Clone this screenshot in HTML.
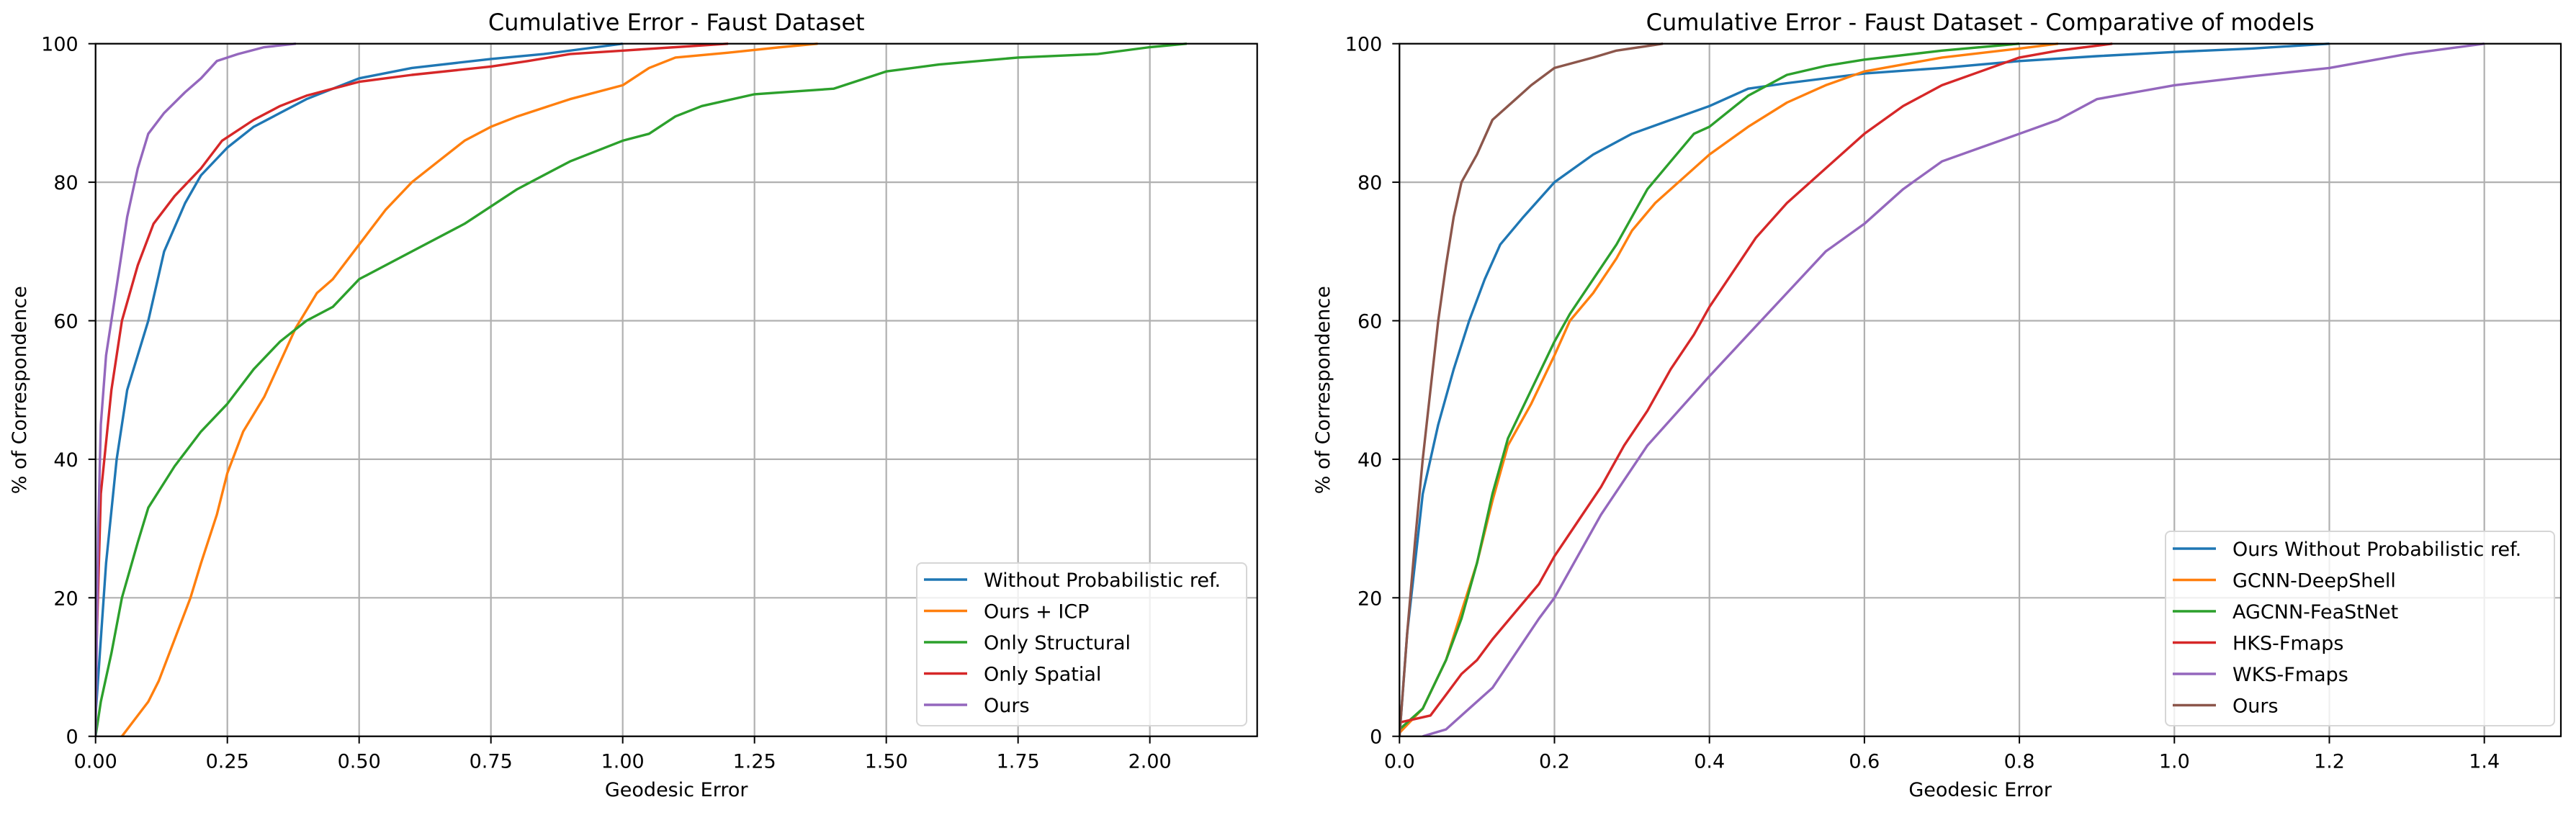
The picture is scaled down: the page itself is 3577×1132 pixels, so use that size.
<!DOCTYPE html>
<html><head><meta charset="utf-8"><style>
html,body{margin:0;padding:0;background:#fff;}
svg text{font-family:"DejaVu Sans","Liberation Sans",sans-serif;fill:#000;}
</style></head><body>
<svg id="fig" width="3577" height="1127" viewBox="0 0 3577 1127" xmlns="http://www.w3.org/2000/svg"></svg>
<script>
const leftNames = ["Without Probabilistic ref.","Ours + ICP","Only Structural","Only Spatial","Ours"];
const leftColors = ["#1f77b4","#ff7f0e","#2ca02c","#d62728","#9467bd"];
const leftBlue = [[0,3],[0.02,25],[0.04,40],[0.06,50],[0.1,60],[0.13,70],[0.17,77],[0.2,81],[0.25,85],[0.3,88],[0.35,90],[0.4,92],[0.45,93.5],[0.5,95],[0.6,96.5],[0.75,97.8],[0.85,98.5],[0.95,99.5],[1.0,100]];
const leftOrange = [[0.05,0],[0.07,2],[0.1,5],[0.12,8],[0.15,14],[0.18,20],[0.2,25],[0.23,32],[0.25,38],[0.28,44],[0.32,49],[0.35,54],[0.38,59],[0.42,64],[0.45,66],[0.5,71],[0.55,76],[0.6,80],[0.65,83],[0.7,86],[0.75,88],[0.8,89.5],[0.9,92],[1.0,94],[1.05,96.5],[1.1,98],[1.2,98.7],[1.3,99.5],[1.37,100]];
const leftGreen = [[0,0],[0.01,5],[0.03,12],[0.05,20],[0.08,28],[0.1,33],[0.15,39],[0.2,44],[0.25,48],[0.3,53],[0.35,57],[0.4,60],[0.45,62],[0.5,66],[0.6,70],[0.7,74],[0.8,79],[0.9,83],[1.0,86],[1.05,87],[1.1,89.5],[1.15,91],[1.25,92.7],[1.4,93.5],[1.5,96],[1.6,97],[1.75,98],[1.9,98.5],[2.0,99.5],[2.07,100]];
const leftRed = [[0,8],[0.01,35],[0.03,50],[0.05,60],[0.08,68],[0.11,74],[0.15,78],[0.2,82],[0.24,86],[0.3,89],[0.35,91],[0.4,92.5],[0.45,93.5],[0.5,94.5],[0.6,95.5],[0.75,96.7],[0.82,97.5],[0.9,98.5],[1.0,99],[1.1,99.5],[1.2,100]];
const leftPurple = [[0,0],[0.005,30],[0.01,45],[0.02,55],[0.04,65],[0.06,75],[0.08,82],[0.1,87],[0.13,90],[0.17,93],[0.2,95],[0.23,97.5],[0.27,98.5],[0.32,99.5],[0.38,100]];
const leftXTicks = ["0.00","0.25","0.50","0.75","1.00","1.25","1.50","1.75","2.00"];

const rightNames = ["Ours Without Probabilistic ref.","GCNN-DeepShell","AGCNN-FeaStNet","HKS-Fmaps","WKS-Fmaps","Ours"];
const rightColors = ["#1f77b4","#ff7f0e","#2ca02c","#d62728","#9467bd","#8c564b"];
const rightBlue = [[0,0],[0.01,15],[0.03,35],[0.05,45],[0.07,53],[0.09,60],[0.11,66],[0.13,71],[0.16,75],[0.2,80],[0.25,84],[0.3,87],[0.35,89],[0.4,91],[0.45,93.5],[0.5,94.3],[0.6,95.7],[0.7,96.5],[0.8,97.5],[0.9,98.2],[1.0,98.8],[1.1,99.3],[1.2,100]];
const rightOrange = [[0,0.5],[0.03,4],[0.06,11],[0.08,18],[0.1,25],[0.12,34],[0.14,42],[0.17,48],[0.2,55],[0.22,60],[0.25,64],[0.28,69],[0.3,73],[0.33,77],[0.36,80],[0.4,84],[0.45,88],[0.5,91.5],[0.55,94],[0.6,96],[0.7,98],[0.8,99.3],[0.85,100]];
const rightGreen = [[0,1],[0.03,4],[0.06,11],[0.08,17],[0.1,25],[0.12,35],[0.14,43],[0.17,50],[0.2,57],[0.22,61],[0.25,66],[0.28,71],[0.3,75],[0.32,79],[0.35,83],[0.38,87],[0.4,88],[0.45,92.5],[0.5,95.5],[0.55,96.8],[0.6,97.7],[0.7,99],[0.8,100]];
const rightRed = [[0,2],[0.02,2.5],[0.04,3],[0.06,6],[0.08,9],[0.1,11],[0.12,14],[0.15,18],[0.18,22],[0.2,26],[0.23,31],[0.26,36],[0.29,42],[0.32,47],[0.35,53],[0.38,58],[0.4,62],[0.43,67],[0.46,72],[0.5,77],[0.55,82],[0.6,87],[0.65,91],[0.7,94],[0.75,96],[0.8,98],[0.85,99],[0.92,100]];
const rightPurple = [[0.03,0],[0.06,1],[0.09,4],[0.12,7],[0.15,12],[0.18,17],[0.2,20],[0.23,26],[0.26,32],[0.29,37],[0.32,42],[0.36,47],[0.4,52],[0.45,58],[0.5,64],[0.55,70],[0.6,74],[0.65,79],[0.7,83],[0.75,85],[0.8,87],[0.85,89],[0.9,92],[0.95,93],[1.0,94],[1.1,95.3],[1.2,96.5],[1.3,98.5],[1.4,100]];
const rightBrown = [[0,0],[0.01,15],[0.02,28],[0.03,40],[0.04,50],[0.05,60],[0.06,68],[0.07,75],[0.08,80],[0.1,84],[0.12,89],[0.15,92],[0.17,94],[0.2,96.5],[0.25,98],[0.28,99],[0.34,100]];
const rightXTicks = ["0.0","0.2","0.4","0.6","0.8","1.0","1.2","1.4"];
const yTicks = ["0","20","40","60","80","100"];

const NS="http://www.w3.org/2000/svg";
const svg=document.getElementById('fig');
function mk(tag,attrs,parent){const e=document.createElementNS(NS,tag);for(const k in attrs)e.setAttribute(k,attrs[k]);(parent||svg).appendChild(e);return e;}

function drawPanel(cfg){
  const g=mk('g',{});
  
  
  const X=v=>cfg.x0+(v-0)/(cfg.xmax)*(cfg.x1-cfg.x0);
  const Y=v=>cfg.y1-(v/100)*(cfg.y1-cfg.y0);
  // grid
  cfg.xticks.forEach(t=>{const v=parseFloat(t);const gl=mk('line',{x1:X(v),x2:X(v),y1:cfg.y0,y2:cfg.y1,stroke:'#b0b0b0','stroke-width':2.2},g);
    
    });
  yTicks.forEach(t=>{const v=parseFloat(t);const gl=mk('line',{x1:cfg.x0,x2:cfg.x1,y1:Y(v),y2:Y(v),stroke:'#b0b0b0','stroke-width':2.2},g);
    
    });
  // clip
  const cid='clip-'+cfg.name;
  const cp=mk('clipPath',{id:cid},g);mk('rect',{x:cfg.x0,y:cfg.y0-3,width:cfg.x1-cfg.x0,height:cfg.y1-cfg.y0+3},cp);
  cfg.series.forEach((s,i)=>{
    const d=s.map((p,j)=>(j?'L':'M')+X(p[0]).toFixed(1)+','+Y(p[1]).toFixed(1)).join('');
    const pl=mk('path',{d:d,fill:'none',stroke:cfg.colors[i],'stroke-width':3.4,'stroke-linejoin':'round','clip-path':'url(#'+cid+')'},g);
    
    
  });
  // spines
  const fr=mk('rect',{x:cfg.x0,y:cfg.y0,width:cfg.x1-cfg.x0,height:cfg.y1-cfg.y0,fill:'none',stroke:'#000','stroke-width':2.2},g);
  
  
  // ticks
  cfg.xticks.forEach(t=>{const v=parseFloat(t);mk('line',{x1:X(v),x2:X(v),y1:cfg.y1,y2:cfg.y1+10,stroke:'#000','stroke-width':2},g);
    const tx=mk('text',{x:X(v),y:cfg.y1+44,'font-size':27,'text-anchor':'middle'},g);tx.textContent=t;
    
    });
  yTicks.forEach(t=>{const v=parseFloat(t);mk('line',{x1:cfg.x0-10,x2:cfg.x0,y1:Y(v),y2:Y(v),stroke:'#000','stroke-width':2},g);
    const tx=mk('text',{x:cfg.x0-24,y:Y(v)+10,'font-size':27,'text-anchor':'end'},g);tx.textContent=t;
    
    });
  const ti=mk('text',{x:(cfg.x0+cfg.x1)/2,y:42,'font-size':32,'text-anchor':'middle'},g);ti.textContent=cfg.title;
  
  
  const xl=mk('text',{x:(cfg.x0+cfg.x1)/2,y:1106,'font-size':27,'text-anchor':'middle'},g);xl.textContent='Geodesic Error';
  
  
  const yc=(cfg.y0+cfg.y1)/2;
  const yl=mk('text',{x:cfg.ylx,y:yc,'font-size':27,'text-anchor':'middle',transform:'rotate(-90 '+cfg.ylx+' '+yc+')'},g);yl.textContent='% of Correspondence';
  
  
  // legend
  const lg=mk('g',{},g);
  
  
  const L=cfg.legend;
  mk('rect',{x:L.x,y:L.y,width:L.w,height:L.h,rx:7,fill:'#fff','fill-opacity':0.8,stroke:'#d6d6d6','stroke-width':2},lg);
  cfg.names.forEach((n,i)=>{
    const ry=L.row0+i*43.5;
    const e=mk('g',{},lg);
    
    
    mk('line',{x1:L.x+10,x2:L.x+70,y1:ry,y2:ry,stroke:cfg.colors[i],'stroke-width':3.4},e);
    const tx=mk('text',{x:L.x+93,y:ry+10,'font-size':27},e);tx.textContent=n;
  });
}

drawPanel({name:'left-chart',title:'Cumulative Error - Faust Dataset',x0:132.7,x1:1745.7,y0:60.7,y1:1022.7,xmax:2.2036,xticks:leftXTicks,ylx:36,
  series:[leftBlue,leftOrange,leftGreen,leftRed,leftPurple],colors:leftColors,names:leftNames,
  legend:{x:1273,y:782,w:458,h:226,row0:805}});
drawPanel({name:'right-chart',title:'Cumulative Error - Faust Dataset - Comparative of models',x0:1943.3,x1:3556,y0:60.7,y1:1022.7,xmax:1.4988,xticks:rightXTicks,ylx:1846,
  series:[rightBlue,rightOrange,rightGreen,rightRed,rightPurple,rightBrown],colors:rightColors,names:rightNames,
  legend:{x:3007,y:738,w:540,h:270,row0:762}});
</script>
</body></html>
